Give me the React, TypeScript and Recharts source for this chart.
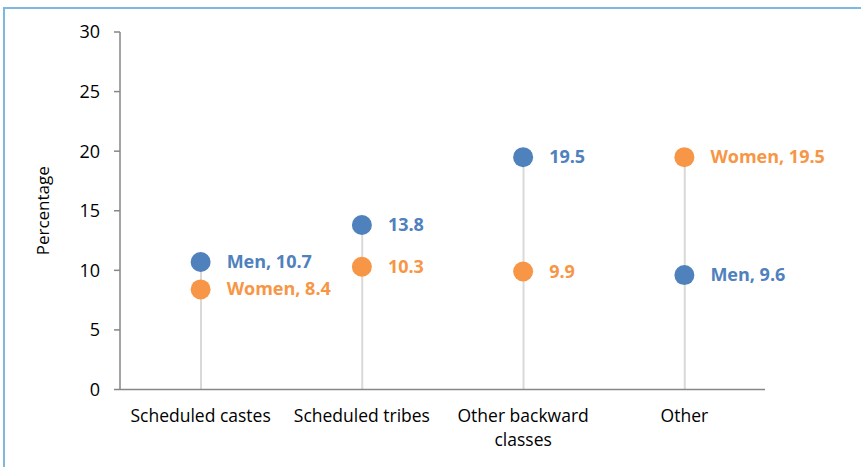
import React from "react";
import { ComposedChart, Bar, Line, XAxis, YAxis, LabelList } from "recharts";

const categories = ["Scheduled castes", "Scheduled tribes", "Other backward classes", "Other"];
const categoryLines = [["Scheduled castes"], ["Scheduled tribes"], ["Other backward", "classes"], ["Other"]];
const menValues = [10.7, 13.8, 19.5, 9.6];
const womenValues = [8.4, 10.3, 9.9, 19.5];
const menLabels = ["Men, 10.7", "13.8", "19.5", "Men, 9.6"];
const womenLabels = ["Women, 8.4", "10.3", "9.9", "Women, 19.5"];
const yTicks = [0, 5, 10, 15, 20, 25, 30];

const MEN = "#4f81bd";
const WOMEN = "#f79646";
const FONT = "'Open Sans', sans-serif";

const data = categories.map((c, i) => ({
  name: c,
  men: menValues[i],
  women: womenValues[i],
  top: Math.max(menValues[i], womenValues[i]),
}));

const XTick = (props: any) => {
  const { x, y, index } = props;
  const lines = categoryLines[index] || [];
  return (
    <g>
      {lines.map((l: string, k: number) => (
        <text key={k} x={x} y={y + 24 + k * 24} textAnchor="middle" fill="#000" fontSize={17.5} fontFamily={FONT}>
          {l}
        </text>
      ))}
    </g>
  );
};

const makeLabel = (labels: string[], color: string) => (props: any) => {
  const { x, y, index } = props;
  return (
    <text x={x + 26} y={y + 6} fill={color} fontSize={18} fontWeight="bold" fontFamily={FONT}>
      {labels[index]}
    </text>
  );
};

export default function App() {
  return (
    <div style={{ position: "absolute", left: 0, top: 0, width: 861, height: 467, background: "#fff" }}>
      <div
        style={{
          position: "absolute",
          left: 3,
          top: 7,
          right: -10,
          bottom: -10,
          borderLeft: "2px solid #7fb8de",
          borderTop: "2px solid #7fb8de",
        }}
      />
      <div style={{ position: "absolute", left: 0, top: 0 }}>
        <ComposedChart width={861} height={467} data={data} margin={{ top: 32, right: 96, left: 0, bottom: 0 }}>
          <XAxis
            dataKey="name"
            height={77.5}
            tickLine={false}
            axisLine={{ stroke: "#868686", strokeWidth: 1.5 }}
            tick={<XTick />}
            interval={0}
          />
          <YAxis
            width={120}
            domain={[0, 30]}
            ticks={yTicks}
            tickLine={{ stroke: "#868686", strokeWidth: 1.5 }}
            tickSize={6}
            axisLine={{ stroke: "#868686", strokeWidth: 1.5 }}
            tick={{ fill: "#000", fontSize: 18, fontFamily: FONT, dx: -12 }}
            label={{
              value: "Percentage",
              angle: -90,
              position: "insideLeft",
              dx: 38,
              style: { textAnchor: "middle", fill: "#000", fontSize: 17, fontFamily: FONT },
            }}
          />
          <Bar dataKey="top" barSize={2} fill="#d9d9d9" isAnimationActive={false} />
          <Line
            dataKey="women"
            stroke="none"
            dot={{ r: 10, fill: WOMEN, stroke: "none" }}
            activeDot={false}
            isAnimationActive={false}
          >
            <LabelList dataKey="women" content={makeLabel(womenLabels, WOMEN)} />
          </Line>
          <Line
            dataKey="men"
            stroke="none"
            dot={{ r: 10, fill: MEN, stroke: "none" }}
            activeDot={false}
            isAnimationActive={false}
          >
            <LabelList dataKey="men" content={makeLabel(menLabels, MEN)} />
          </Line>
        </ComposedChart>
      </div>
    </div>
  );
}
